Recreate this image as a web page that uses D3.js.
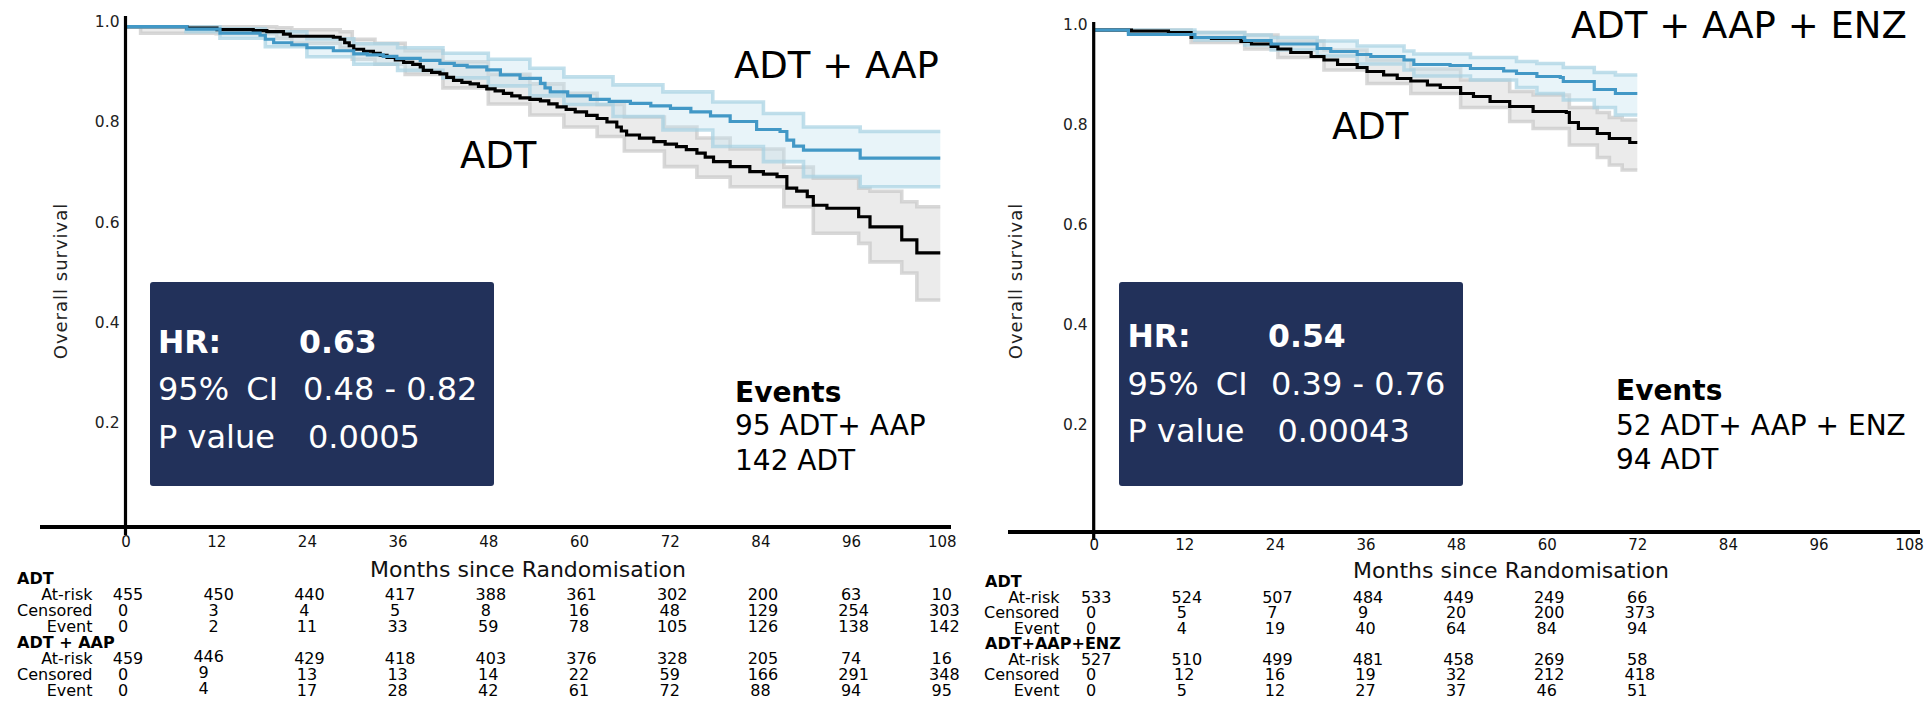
<!DOCTYPE html>
<html>
<head>
<meta charset="utf-8">
<script src="https://cdn.jsdelivr.net/npm/d3@7"></script>
<style>
  html, body { margin: 0; padding: 0; background: #fff; }
  svg { display: block; }
  text { font-family: "DejaVu Sans", Verdana, sans-serif; }
</style>
</head>
<body>
<svg id="chart" width="1931" height="701"></svg>
<script>
// ---------------- data ----------------
const monthTicks = [0, 12, 24, 36, 48, 60, 72, 84, 96, 108];
const survTicks = [0.2, 0.4, 0.6, 0.8, 1.0];
const rowNames = ["At-risk", "Censored", "Event"];

// Comparison 1: ADT vs ADT + AAP  — Kaplan-Meier steps [month, survival]
const adtCurve1 = [[0,1.0],[8.1,0.997],[12.1,0.994],[16.9,0.992],[18.7,0.99],[20.9,0.985],[21.8,0.981],[27.5,0.979],[28.4,0.975],[29.0,0.968],[29.6,0.962],[30.2,0.955],[31.5,0.951],[32.8,0.947],[33.7,0.943],[34.6,0.939],[35.7,0.934],[36.8,0.929],[38.0,0.925],[39.0,0.92],[39.4,0.913],[40.5,0.909],[41.6,0.906],[42.5,0.899],[43.4,0.893],[44.5,0.889],[45.6,0.886],[46.7,0.881],[47.8,0.876],[48.9,0.872],[50.0,0.867],[51.1,0.862],[52.2,0.858],[53.5,0.855],[54.9,0.852],[56.0,0.846],[57.1,0.840],[58.3,0.835],[59.5,0.830],[61.0,0.823],[62.4,0.817],[63.7,0.81],[65.0,0.800],[65.6,0.792],[66.3,0.784],[68.0,0.778],[69.9,0.771],[71.4,0.766],[72.9,0.761],[74.2,0.755],[75.6,0.748],[76.7,0.74],[77.8,0.731],[80.0,0.721],[82.6,0.711],[84.4,0.706],[86.2,0.701],[87.5,0.678],[88.8,0.672],[90.2,0.661],[91.0,0.644],[92.8,0.638],[97.0,0.621],[98.5,0.601],[102.7,0.575],[104.7,0.549],[107.8,0.549]];
// 95% confidence band steps [month, lower, upper]
const adtCI1 = [[0,1,1],[2,0.987,1.0],[12,0.986,1.0],[20,0.977,0.998],[22,0.967,0.994],[28.4,0.958,0.99],[30,0.935,0.975],[33,0.925,0.967],[37,0.905,0.952],[42,0.878,0.93],[48,0.846,0.905],[53.5,0.824,0.886],[58,0.8,0.867],[62.4,0.781,0.845],[66,0.752,0.82],[71.3,0.721,0.8],[75.6,0.7,0.778],[80,0.681,0.756],[87.1,0.641,0.72],[91,0.588,0.698],[97,0.568,0.678],[98.5,0.531,0.672],[102.7,0.509,0.651],[104.7,0.455,0.641],[107.8,0.455,0.641]];
const aapCurve1 = [[0,1.0],[8.1,0.995],[12.5,0.987],[17.8,0.983],[18.5,0.975],[19.6,0.968],[22.0,0.964],[24.0,0.958],[27.5,0.952],[30.2,0.946],[32.0,0.944],[34.1,0.941],[35.9,0.937],[39.0,0.933],[41.6,0.927],[43.5,0.923],[45.2,0.92],[47.8,0.914],[49.6,0.904],[52.2,0.897],[54.9,0.887],[55.5,0.878],[56.2,0.87],[58.5,0.862],[61.5,0.855],[64.0,0.851],[66.8,0.847],[69.5,0.842],[72.1,0.837],[74.8,0.83],[77.4,0.822],[80.0,0.811],[83.5,0.795],[86.6,0.791],[87.5,0.774],[88.4,0.762],[89.7,0.754],[97.2,0.738],[107.8,0.738]];
const aapCI1 = [[0,1,1],[8,0.99,1.0],[12.5,0.977,0.996],[18.5,0.96,0.99],[24,0.94,0.976],[30.2,0.925,0.966],[36,0.913,0.958],[42,0.898,0.947],[48,0.882,0.935],[53.5,0.862,0.917],[58,0.845,0.9],[64.5,0.821,0.884],[71.1,0.794,0.87],[77.7,0.761,0.85],[84.4,0.731,0.827],[89.7,0.701,0.8],[97.2,0.681,0.791],[107.8,0.681,0.791]];

const adtAtRisk1   = [455, 450, 440, 417, 388, 361, 302, 200, 63, 10];
const adtCensored1 = [0, 3, 4, 5, 8, 16, 48, 129, 254, 303];
const adtEvent1    = [0, 2, 11, 33, 59, 78, 105, 126, 138, 142];
const aapAtRisk1   = [459, 446, 429, 418, 403, 376, 328, 205, 74, 16];
const aapCensored1 = [0, 9, 13, 13, 14, 22, 59, 166, 291, 348];
const aapEvent1    = [0, 4, 17, 28, 42, 61, 72, 88, 94, 95];

// Comparison 2: ADT vs ADT + AAP + ENZ
const adtCurve2 = [[0,1.0],[5.0,0.998],[9.9,0.995],[12.9,0.985],[15.6,0.983],[19.5,0.977],[20.9,0.972],[23.5,0.967],[24.4,0.962],[26.1,0.955],[28.8,0.947],[30.5,0.94],[32.3,0.931],[34.9,0.925],[36.2,0.917],[38.4,0.91],[40.2,0.903],[42.0,0.898],[44.2,0.89],[45.9,0.885],[48.6,0.873],[50.3,0.867],[52.5,0.857],[55.1,0.847],[58.2,0.837],[62.6,0.835],[63.0,0.815],[64.2,0.803],[66.7,0.793],[68.3,0.783],[71.0,0.775],[72,0.775]];
const adtCI2 = [[0,1,1],[5,0.993,1.0],[12.9,0.975,0.995],[20,0.962,0.99],[24.4,0.945,0.978],[30.5,0.92,0.96],[36.2,0.893,0.94],[42,0.873,0.922],[48.6,0.845,0.9],[55.1,0.817,0.877],[58.2,0.803,0.87],[63,0.77,0.845],[66.7,0.745,0.835],[68.3,0.73,0.825],[70,0.72,0.82],[72,0.72,0.82]];
const enzCurve2 = [[0,1.0],[4.6,0.991],[13.4,0.985],[20.0,0.979],[23.5,0.972],[29.6,0.963],[31.4,0.957],[34.9,0.951],[36.7,0.947],[41.1,0.94],[42.4,0.931],[47.2,0.929],[49.9,0.923],[54.3,0.918],[56.0,0.913],[58.7,0.907],[61.8,0.905],[62.2,0.897],[66.3,0.881],[69.1,0.873],[72,0.873]];
const enzCI2 = [[0,1,1],[4.6,0.996,1.0],[13.4,0.98,0.995],[20,0.97,0.99],[23.5,0.96,0.985],[29.6,0.948,0.978],[34.9,0.932,0.968],[41.1,0.92,0.958],[42.4,0.908,0.952],[49.9,0.9,0.945],[56,0.885,0.937],[58.7,0.873,0.933],[62.2,0.86,0.925],[66.3,0.845,0.915],[69.1,0.83,0.91],[72,0.83,0.91]];

const adtAtRisk2   = [533, 524, 507, 484, 449, 249, 66];
const adtCensored2 = [0, 5, 7, 9, 20, 200, 373];
const adtEvent2    = [0, 4, 19, 40, 64, 84, 94];
const enzAtRisk2   = [527, 510, 499, 481, 458, 269, 58];
const enzCensored2 = [0, 12, 16, 19, 32, 212, 418];
const enzEvent2    = [0, 5, 12, 27, 37, 46, 51];

// ---------------- styles ----------------
const BLUE = "#4298c6";
const NAVY = "#22315a";
const bandStyle = {
  gray: { fill: "#ebebeb", fillOpacity: 1, edge: "#c8c8c8" },
  blue: { fill: "#c6e3f0", fillOpacity: 0.4, edge: "#a6d2e3" }
};

const svg = d3.select("#chart");
svg.append("rect").attr("width", 1931).attr("height", 701).attr("fill", "#fff");

const panels = [
  {
    xRange: [125.5, 941.8], yRange: [528.2, 26.7],
    xAxisY: 527, xAxisSpan: [40, 951], yAxisSpan: [16, 535],
    tickBaseline: 551.5, xTitlePos: [528, 576.5], yTitlePos: [61, 281],
    arms: [
      { curve: adtCurve1, ci: adtCI1, color: "#000", band: "gray" },
      { curve: aapCurve1, ci: aapCI1, color: BLUE, band: "blue" }
    ],
    labels: [
      { text: "ADT + AAP", x: 734, y: 78 },
      { text: "ADT", x: 460, y: 168 }
    ],
    box: { x: 150, y: 282, w: 344, h: 204, textX: 158, valueX: [299, 303, 308], base: [353, 400, 448],
           hr: "0.63", ci: "0.48 - 0.82", p: "0.0005" },
    events: { x: 735, base: [402, 435, 470], lines: ["95 ADT+ AAP", "142 ADT"] },
    table: {
      headerX: 17, rowLabelX: 92.5, top: 584, step: 16,
      groups: [
        { name: "ADT", rows: [adtAtRisk1, adtCensored1, adtEvent1] },
        { name: "ADT + AAP", rows: [aapAtRisk1, aapCensored1, aapEvent1] }
      ],
      nudge: { group: 1, col: 1, dx: -10, dy: -2.5 }
    }
  },
  {
    xRange: [1093.7, 1909.1], yRange: [530, 30],
    xAxisY: 532, xAxisSpan: [1008, 1920], yAxisSpan: [22, 540],
    tickBaseline: 554, xTitlePos: [1511, 578], yTitlePos: [1016, 281],
    arms: [
      { curve: adtCurve2, ci: adtCI2, color: "#000", band: "gray" },
      { curve: enzCurve2, ci: enzCI2, color: BLUE, band: "blue" }
    ],
    labels: [
      { text: "ADT + AAP + ENZ", x: 1571, y: 38 },
      { text: "ADT", x: 1332, y: 139 }
    ],
    box: { x: 1119, y: 282, w: 344, h: 204, textX: 1127.5, valueX: [1268, 1271, 1277.5], base: [347, 395, 442],
           hr: "0.54", ci: "0.39 - 0.76", p: "0.00043" },
    events: { x: 1616, base: [400, 435, 469], lines: ["52 ADT+ AAP + ENZ", "94 ADT"] },
    table: {
      headerX: 985, rowLabelX: 1059.5, top: 587, step: 15.5,
      groups: [
        { name: "ADT", rows: [adtAtRisk2, adtCensored2, adtEvent2] },
        { name: "ADT+AAP+ENZ", rows: [enzAtRisk2, enzCensored2, enzEvent2] }
      ],
      nudge: null
    }
  }
];

panels.forEach(drawPanel);

function drawPanel(p) {
  const g = svg.append("g");
  const x = d3.scaleLinear().domain([0, 108]).range(p.xRange);
  const y = d3.scaleLinear().domain([0, 1]).range(p.yRange);

  const bandArea = d3.area().curve(d3.curveStepAfter)
    .x(d => x(d[0])).y0(d => y(d[1])).y1(d => y(d[2]));
  const lowEdge = d3.line().curve(d3.curveStepAfter).x(d => x(d[0])).y(d => y(d[1]));
  const highEdge = d3.line().curve(d3.curveStepAfter).x(d => x(d[0])).y(d => y(d[2]));
  const kmLine = d3.line().curve(d3.curveStepAfter).x(d => x(d[0])).y(d => y(d[1]));

  // confidence bands
  p.arms.forEach(arm => {
    const st = bandStyle[arm.band];
    g.append("path").attr("d", bandArea(arm.ci))
      .attr("fill", st.fill).attr("fill-opacity", st.fillOpacity);
    [lowEdge, highEdge].forEach(fn => {
      g.append("path").attr("d", fn(arm.ci))
        .attr("fill", "none").attr("stroke", st.edge)
        .attr("stroke-width", 3.6).attr("stroke-opacity", 0.7);
    });
  });

  // survival curves
  p.arms.forEach(arm => {
    g.append("path").attr("d", kmLine(arm.curve))
      .attr("fill", "none").attr("stroke", arm.color)
      .attr("stroke-width", 3.2);
  });

  // axis lines
  g.append("line")
    .attr("x1", p.xAxisSpan[0]).attr("x2", p.xAxisSpan[1])
    .attr("y1", p.xAxisY).attr("y2", p.xAxisY)
    .attr("stroke", "#000").attr("stroke-width", 4);
  g.append("line")
    .attr("x1", x(0)).attr("x2", x(0))
    .attr("y1", p.yAxisSpan[0]).attr("y2", p.yAxisSpan[1])
    .attr("stroke", "#000").attr("stroke-width", 3.2);

  // x tick labels
  const xAxis = g.append("g")
    .attr("transform", `translate(0,${p.tickBaseline - 15})`)
    .call(d3.axisBottom(x).tickValues(monthTicks).tickSize(0).tickPadding(0));
  xAxis.select(".domain").remove();
  xAxis.selectAll("text")
    .attr("font-family", "DejaVu Sans, Verdana, sans-serif")
    .attr("font-size", 15).attr("fill", "#111").attr("dy", "0.71em");

  // y tick labels
  const yAxis = g.append("g")
    .attr("transform", `translate(${x(0) - 6},-5)`)
    .call(d3.axisLeft(y).tickValues(survTicks).tickFormat(d3.format(".1f")).tickSize(0).tickPadding(0));
  yAxis.select(".domain").remove();
  yAxis.selectAll("text")
    .attr("font-family", "DejaVu Sans, Verdana, sans-serif")
    .attr("font-size", 15.5).attr("fill", "#222");

  // axis titles
  g.append("text")
    .attr("x", p.xTitlePos[0]).attr("y", p.xTitlePos[1])
    .attr("text-anchor", "middle").attr("font-size", 22).attr("fill", "#111")
    .text("Months since Randomisation");
  g.append("text")
    .attr("transform", `translate(${p.yTitlePos[0] + 6},${p.yTitlePos[1]}) rotate(-90)`)
    .attr("text-anchor", "middle").attr("font-size", 18).attr("letter-spacing", 1)
    .attr("fill", "#222")
    .text("Overall survival");

  // arm labels
  p.labels.forEach(l => {
    g.append("text").attr("x", l.x).attr("y", l.y)
      .attr("font-size", 37).attr("fill", "#000").text(l.text);
  });

  // hazard-ratio box
  const b = p.box;
  g.append("rect").attr("x", b.x).attr("y", b.y).attr("width", b.w).attr("height", b.h)
    .attr("rx", 3).attr("fill", NAVY);
  const boxRows = [
    ["HR:", b.hr, "bold", 31.5, 0],
    ["95% CI", b.ci, "normal", 32, 7],
    ["P value", b.p, "normal", 32, 0]
  ];
  boxRows.forEach((r, i) => {
    g.append("text").attr("x", b.textX).attr("y", b.base[i])
      .attr("font-size", r[3]).attr("font-weight", r[2]).attr("word-spacing", r[4])
      .attr("fill", "#fff").text(r[0]);
    g.append("text").attr("x", b.valueX[i]).attr("y", b.base[i])
      .attr("font-size", r[3]).attr("font-weight", r[2]).attr("fill", "#fff").text(r[1]);
  });

  // events summary
  const e = p.events;
  g.append("text").attr("x", e.x).attr("y", e.base[0])
    .attr("font-size", 28).attr("font-weight", "bold").attr("fill", "#000").text("Events");
  e.lines.forEach((t, i) => {
    g.append("text").attr("x", e.x).attr("y", e.base[i + 1])
      .attr("font-size", 28).attr("fill", "#000").text(t);
  });

  // numbers-at-risk table
  const t = p.table;
  t.groups.forEach((grp, gi) => {
    const headY = t.top + gi * 4 * t.step;
    g.append("text").attr("x", t.headerX).attr("y", headY)
      .attr("font-size", 16).attr("font-weight", "bold").attr("fill", "#000").text(grp.name);
    grp.rows.forEach((vals, ri) => {
      const rowY = headY + (ri + 1) * t.step;
      g.append("text").attr("x", t.rowLabelX).attr("y", rowY)
        .attr("text-anchor", "end").attr("font-size", 16).attr("fill", "#000")
        .text(rowNames[ri]);
      g.selectAll(null).data(vals).enter().append("text")
        .attr("x", (v, ci) => {
          const n = String(v).length;
          let px = x(monthTicks[ci]) + (n - 2) * 2.5;
          if (t.nudge && t.nudge.group === gi && t.nudge.col === ci) px += t.nudge.dx;
          return px;
        })
        .attr("y", (v, ci) => rowY + ((t.nudge && t.nudge.group === gi && t.nudge.col === ci) ? t.nudge.dy : 0))
        .attr("text-anchor", "middle").attr("font-size", 16).attr("fill", "#000")
        .text(v => v);
    });
  });
}
</script>
</body>
</html>
